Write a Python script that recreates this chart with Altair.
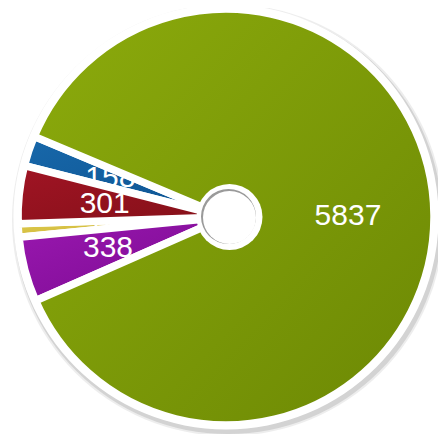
import math
import altair as alt

# ---- data ----
categories = ["A", "B", "C", "D", "E"]          # green, purple, yellow, red, blue (clockwise)
values = [5837, 338, 70, 301, 158]
labels = ["5837", "338", "70", "301", "158"]
order = [1, 2, 3, 4, 5]

# ---- styles ----
fills = {
    "A": ("#8cab0c", "#6c8804"),
    "B": ("#9a18b0", "#7a0a90"),
    "C": ("#e0cc50", "#c8b030"),
    "D": ("#a01424", "#841018"),
    "E": ("#1868aa", "#0c5290"),
}
draw_seq = ["E", "C", "D", "B", "A"]

total = sum(values)
theta0 = math.radians(292.8)
CX, CY = 218, 209      # plot coords (page = +8)
R = 208

rows = [dict(cat=c, value=v, label=l, ord=o) for c, v, l, o in zip(categories, values, labels, order)]

theta_scale = alt.Scale(domain=[0, total], range=[theta0, theta0 + 2 * math.pi])

base = alt.Chart(alt.Data(values=rows)).transform_window(
    cum="sum(value)", sort=[alt.SortField("ord")], frame=[None, 0]
).transform_calculate(
    start="datum.cum - datum.value", mid="datum.cum - datum.value / 2"
)

def grad(c0, c1):
    return alt.Gradient(
        gradient="linear",
        stops=[alt.GradientStop(color=c0, offset=0), alt.GradientStop(color=c1, offset=1)],
        x1=0, y1=0, x2=1, y2=1,
    )

# shadow and white ring
ring_data = alt.Data(values=[{"v": 1}])
shadow = alt.Chart(ring_data).mark_arc(radius=R + 6, fill="#bdbdbd", opacity=0.55).encode(
    theta=alt.value(2 * math.pi), x=alt.value(CX + 2), y=alt.value(CY + 3)
)
shadow2 = alt.Chart(ring_data).mark_arc(radius=R + 8, fill="#dcdcdc", opacity=0.5).encode(
    theta=alt.value(2 * math.pi), x=alt.value(CX + 2), y=alt.value(CY + 3)
)
white_ring = alt.Chart(ring_data).mark_arc(radius=R + 4.5, fill="white").encode(
    theta=alt.value(2 * math.pi), x=alt.value(CX), y=alt.value(CY)
)

layers = [shadow2, shadow, white_ring]
for c in draw_seq:
    sub = base.transform_filter(alt.datum.cat == c)
    arc = sub.mark_arc(radius=R, fill=grad(*fills[c]), stroke="white", strokeWidth=7.5).encode(
        theta=alt.Theta("start:Q", scale=theta_scale),
        theta2="cum:Q",
        x=alt.value(CX), y=alt.value(CY),
    )
    txt = sub.mark_text(radius=122, fontSize=30, font="Liberation Sans", fill="white",
                        align="center", baseline="middle").encode(
        theta=alt.Theta("mid:Q", scale=theta_scale),
        text="label:N",
        x=alt.value(CX), y=alt.value(CY),
    )
    layers += [arc, txt]

hole_outer = alt.Chart(ring_data).mark_arc(radius=33, fill="white").encode(
    theta=alt.value(2 * math.pi), x=alt.value(CX + 3.5), y=alt.value(CY)
)
hole_shade = alt.Chart(ring_data).mark_arc(radius=27.5, fill="#9a9a9a").encode(
    theta=alt.value(2 * math.pi), x=alt.value(CX + 2.5), y=alt.value(CY - 0.5)
)
hole_inner = alt.Chart(ring_data).mark_arc(radius=26.5, fill="white").encode(
    theta=alt.value(2 * math.pi), x=alt.value(CX + 3.5), y=alt.value(CY + 0.5)
)
layers += [hole_outer, hole_shade, hole_inner]

chart = alt.layer(*layers).properties(
    width=430, height=426, padding=0, autosize="none"
).configure_view(stroke=None)

chart.save("out.html", embed_options={"renderer": "svg", "actions": False})
